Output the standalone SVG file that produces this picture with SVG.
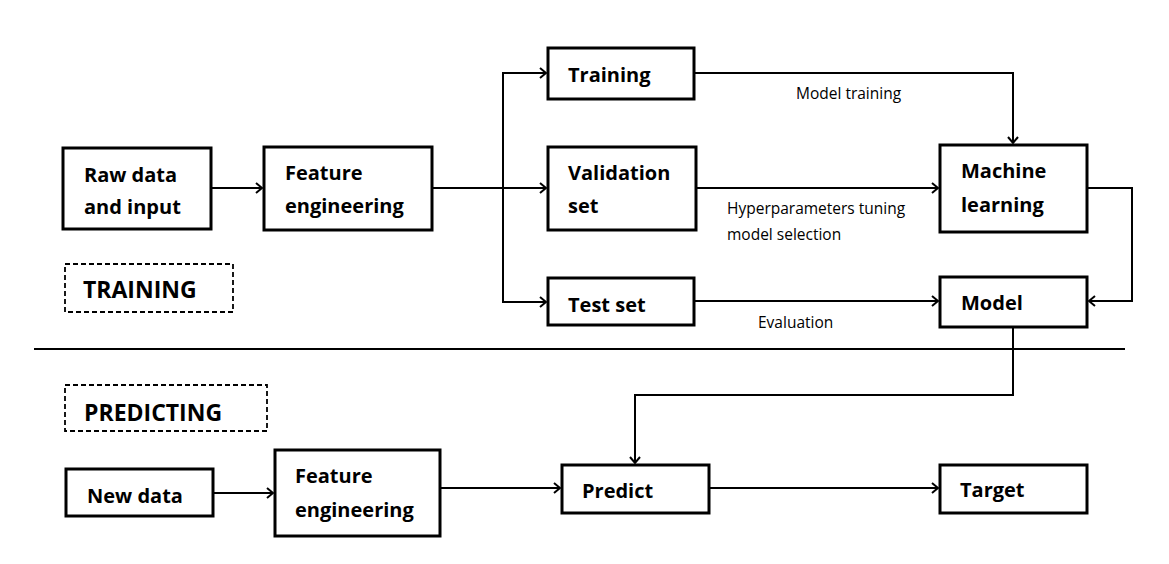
<svg xmlns="http://www.w3.org/2000/svg" width="1169" height="564" viewBox="0 0 1169 564">
<style>
.box{fill:#fff;stroke:#000;stroke-width:3}
.dash{fill:none;stroke:#000;stroke-width:1.8;stroke-dasharray:5,3}
.t{font-family:"Open Sans","Noto Sans",sans-serif;font-weight:bold;font-size:20px;fill:#000}
.big{font-family:"Open Sans","Noto Sans",sans-serif;font-weight:bold;font-size:23px;fill:#000}
.lbl{font-family:"Open Sans","Noto Sans",sans-serif;font-size:15.5px;fill:#000}
.c{fill:none;stroke:#000;stroke-width:2}
</style>
<defs>
<marker id="ah" markerWidth="12" markerHeight="12" refX="9" refY="6" orient="auto" markerUnits="userSpaceOnUse">
<path d="M3,1 L9,6 L3,11" fill="none" stroke="#000" stroke-width="2"/>
</marker>
</defs>
<rect width="1169" height="564" fill="#fff"/>
<g id="connectors">
<path class="c" d="M211,188 H262" marker-end="url(#ah)"/>
<path class="c" d="M432,188 H546" marker-end="url(#ah)"/>
<path class="c" d="M503,188 V73 H546" marker-end="url(#ah)"/>
<path class="c" d="M503,188 V302 H546" marker-end="url(#ah)"/>
<path class="c" d="M694,73 H1013 V143" marker-end="url(#ah)"/>
<path class="c" d="M696,188 H938" marker-end="url(#ah)"/>
<path class="c" d="M694,301 H938" marker-end="url(#ah)"/>
<path class="c" d="M1087,188 H1132 V301 H1089" marker-end="url(#ah)"/>
<path class="c" d="M1013,327 V395 H635 V463" marker-end="url(#ah)"/>
<path class="c" d="M213,493 H273" marker-end="url(#ah)"/>
<path class="c" d="M440,488 H560" marker-end="url(#ah)"/>
<path class="c" d="M709,488 H938" marker-end="url(#ah)"/>
<line x1="34" y1="349" x2="1125" y2="349" stroke="#000" stroke-width="2"/>
</g>
<g id="labels">
<text class="lbl" x="796" y="99">Model training</text>
<text class="lbl" x="727" y="214">Hyperparameters tuning</text>
<text class="lbl" x="727" y="240">model selection</text>
<text class="lbl" x="758" y="328">Evaluation</text>
</g>
<g id="raw-data">
<rect class="box" x="63" y="148" width="148" height="81"/>
<text class="t" x="84" y="182">Raw data</text>
<text class="t" x="84" y="214">and input</text>
</g>
<g id="feature-engineering-1">
<rect class="box" x="264" y="147" width="168" height="83"/>
<text class="t" x="285" y="180">Feature</text>
<text class="t" x="285" y="213">engineering</text>
</g>
<g id="training-label">
<rect class="dash" x="65" y="264" width="168" height="48"/>
<text class="big" x="83" y="298">TRAINING</text>
</g>
<g id="training">
<rect class="box" x="548" y="48" width="146" height="51"/>
<text class="t" x="568" y="82">Training</text>
</g>
<g id="validation-set">
<rect class="box" x="548" y="147" width="148" height="83"/>
<text class="t" x="568" y="180">Validation</text>
<text class="t" x="568" y="213">set</text>
</g>
<g id="test-set">
<rect class="box" x="548" y="278" width="146" height="47"/>
<text class="t" x="568" y="312">Test set</text>
</g>
<g id="machine-learning">
<rect class="box" x="940" y="145" width="147" height="87"/>
<text class="t" x="961" y="178">Machine</text>
<text class="t" x="961" y="212">learning</text>
</g>
<g id="model">
<rect class="box" x="940" y="277" width="147" height="50"/>
<text class="t" x="961" y="310">Model</text>
</g>
<g id="predicting-label">
<rect class="dash" x="65" y="385" width="202" height="46"/>
<text class="big" x="84" y="421">PREDICTING</text>
</g>
<g id="new-data">
<rect class="box" x="66" y="469" width="147" height="47"/>
<text class="t" x="87" y="503">New data</text>
</g>
<g id="feature-engineering-2">
<rect class="box" x="275" y="450" width="165" height="86"/>
<text class="t" x="295" y="483">Feature</text>
<text class="t" x="295" y="517">engineering</text>
</g>
<g id="predict">
<rect class="box" x="562" y="465" width="147" height="48"/>
<text class="t" x="582" y="498">Predict</text>
</g>
<g id="target">
<rect class="box" x="940" y="465" width="147" height="48"/>
<text class="t" x="960" y="497">Target</text>
</g>
</svg>
